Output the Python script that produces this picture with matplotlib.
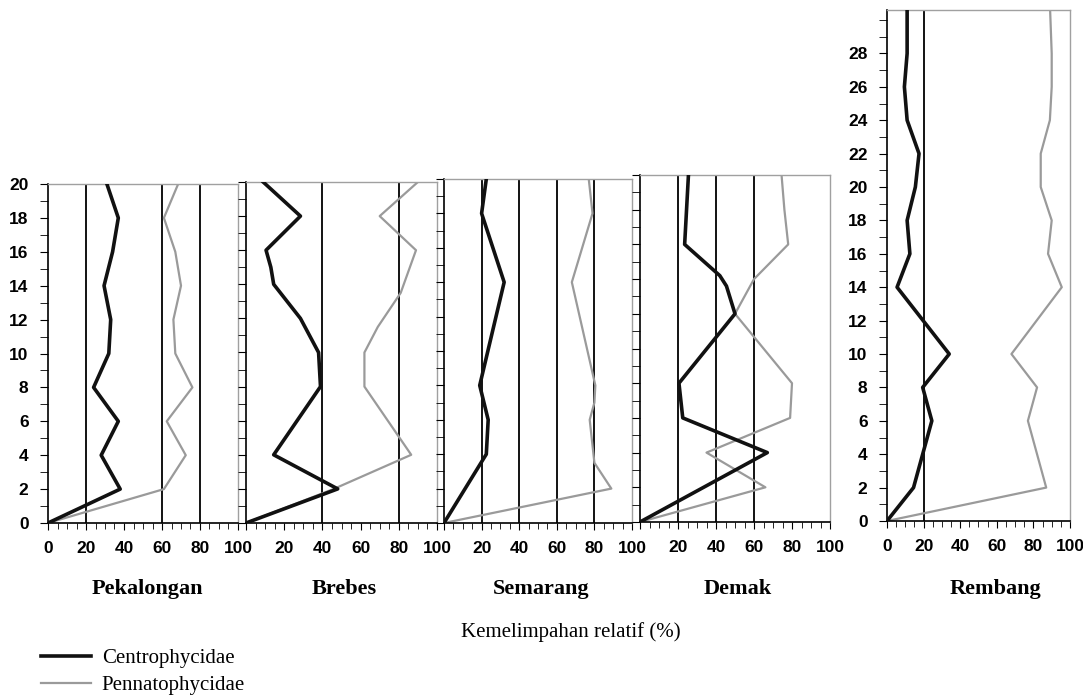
import matplotlib.pyplot as plt
from matplotlib.ticker import MultipleLocator

W, H = 1083, 696

# kedalaman (cm) dan kemelimpahan relatif (%) per lokasi
pek_depth = [0, 2, 4, 6, 8, 10, 12, 14, 16, 18, 20]
pek_centro = [0, 38, 28, 37, 24, 32, 33, 29.5, 34, 37, 31]
pek_penna = [0, 61, 72.5, 62.5, 76, 67, 66, 70, 67, 61, 68.5]

bre_depth_c = [0, 2, 4, 8, 10, 12, 14, 15, 16, 18, 20]
bre_centro = [0, 48, 14.5, 39, 38, 28.5, 14.5, 13, 10.5, 28.5, 9]
bre_depth_p = [0, 2, 4, 8, 10, 11.5, 13.5, 16, 18, 20]
bre_penna = [0, 46, 86.5, 62, 62, 69, 81, 89, 70, 90]

sem_depth_c = [0, 4, 6, 8, 14, 18, 20]
sem_centro = [0, 22.5, 23.5, 19, 32, 20, 22.5]
sem_depth_p = [0, 2, 3.5, 6, 7, 8, 14, 18, 20]
sem_penna = [0, 89, 80, 77.5, 80, 80.5, 68, 79, 77]

dem_depth_c = [0, 4, 6, 8, 12, 13.6, 14.2, 16, 18, 20]
dem_centro = [0, 67, 22.5, 20.5, 50, 45.5, 42, 23.5, 24.5, 25.5]
dem_depth_p = [0, 2, 4, 6, 8, 12, 14, 16, 18, 20]
dem_penna = [0, 66, 35, 79, 80, 50, 60, 78, 76, 74.5]

rem_depth = [0, 2, 6, 8, 10, 14, 16, 18, 20, 22, 24, 26, 28, 31]
rem_centro = [0, 14.5, 24.5, 19.5, 34, 5.5, 12.5, 11, 15.5, 17.5, 11, 9.5, 11, 11]
rem_penna = [0, 87, 77, 82, 68, 95.5, 88, 90, 84, 84, 89, 90, 90, 89]

panels = [
    # name, box (left, right, bottom, top) px, ymax, reference lines, data, y labels, x label at 0
    ('Pekalongan', (48, 238, 523, 184), 20, [20, 60, 80],
     (pek_depth, pek_centro, pek_depth, pek_penna), True, True),
    ('Brebes', (246, 437, 523, 182), 20, [40, 80],
     (bre_depth_c, bre_centro, bre_depth_p, bre_penna), False, False),
    ('Semarang', (444, 632, 523, 179), 20, [20, 40, 60, 80],
     (sem_depth_c, sem_centro, sem_depth_p, sem_penna), False, False),
    ('Demak', (640, 830, 522, 175), 20, [20, 40, 60],
     (dem_depth_c, dem_centro, dem_depth_p, dem_penna), False, False),
    ('Rembang', (887, 1070, 521, 10), 30.6, [20],
     (rem_depth, rem_centro, rem_depth, rem_penna), True, True),
]
name_x = [147, 344, 541, 738, 995]

fig = plt.figure(figsize=(W / 100, H / 100), dpi=100)

tickfont = dict(family='Liberation Sans', weight='bold', size=12.5)

for (name, (l, r, b, t), ymax, refs, data, ylab, x0lab), nx in zip(panels, name_x):
    ax = fig.add_axes([l / W, 1 - b / H, (r - l) / W, (b - t) / H])
    dc, cen, dp, pen = data
    for v in refs:
        ax.axvline(v, color='black', lw=1.3, zorder=1)
    ax.plot(pen, dp, color='#9a9a9a', lw=1.6, zorder=2,
            label='Pennatophycidae')
    ax.plot(cen, dc, color='#111111', lw=2.6, zorder=3,
            label='Centrophycidae')
    ax.set_xlim(0, 100)
    ax.set_ylim(0, ymax)
    for s in ['top', 'right']:
        ax.spines[s].set_color('#a0a0a0')
        ax.spines[s].set_linewidth(1.0)
    for s in ['left', 'bottom']:
        ax.spines[s].set_color('black')
        ax.spines[s].set_linewidth(1.2)

    ax.set_xticks([0, 20, 40, 60, 80, 100])
    if x0lab:
        ax.set_xticklabels(['0', '20', '40', '60', '80', '100'])
    else:
        ax.set_xticklabels(['', '20', '40', '60', '80', '100'])
    ax.xaxis.set_minor_locator(MultipleLocator(5))
    ax.yaxis.set_major_locator(MultipleLocator(2))
    ax.yaxis.set_minor_locator(MultipleLocator(1))
    ax.tick_params(axis='both', which='both', direction='out', color='black')
    ax.tick_params(axis='x', which='major', length=5, pad=8)
    ax.tick_params(axis='x', which='minor', length=4)
    ax.tick_params(axis='y', which='both', length=6, pad=8)
    if ylab:
        ax.set_yticks(range(0, 29 if ymax > 21 else 21, 2))
        ax.yaxis.set_minor_locator(MultipleLocator(1))
    else:
        ax.set_yticklabels([])
    for lab in ax.get_xticklabels() + ax.get_yticklabels():
        lab.set_fontproperties(tickfont)

    fig.text(nx / W, 1 - 589 / H, name, ha='center', va='center',
             family='Liberation Serif', weight='bold', fontsize=16)

fig.text(571 / W, 1 - 632 / H, 'Kemelimpahan relatif (%)', ha='center',
         va='center', family='Liberation Serif', fontsize=15)

handles, labels = ax.get_legend_handles_labels()
fig.legend(handles[::-1], labels[::-1], loc='upper left',
           bbox_to_anchor=(33 / W, 1 - 640 / H), frameon=False,
           prop=dict(family='Liberation Serif', size=15),
           handlelength=2.4, handletextpad=0.5, labelspacing=0.35,
           borderaxespad=0)

fig.savefig('out.png', dpi=100)
